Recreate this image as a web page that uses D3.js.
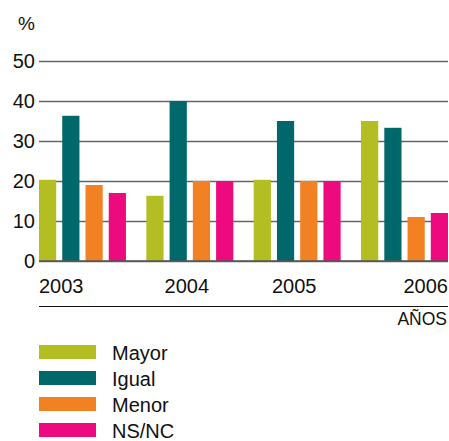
<!DOCTYPE html>
<html>
<head>
<meta charset="utf-8">
<script src="https://cdn.jsdelivr.net/npm/d3@7"></script>
<style>
  body { margin: 0; background: #fff; }
  svg { font-family: "Liberation Sans", Arial, sans-serif; }
</style>
</head>
<body>
<svg width="449" height="441"></svg>
<script>
// data
const years = ["2003", "2004", "2005", "2006"];
const series = ["Mayor", "Igual", "Menor", "NS/NC"];
const mayor = [20.3, 16.3, 20.3, 35];
const igual = [36.3, 40, 35, 33.3];
const menor = [19, 20, 20, 11];
const nsnc = [17, 20, 20, 12];
const yTicks = [0, 10, 20, 30, 40, 50];
const colors = ["#b2be22", "#00676a", "#f28123", "#ec0a7e"];

const values = [mayor, igual, menor, nsnc];

let svg = d3.select("svg");
let left = 39, right = 448;

let yScale = d3.scaleLinear()
  .domain([0, 50])
  .range([261, 61]);

let x0 = d3.scaleBand()
  .domain(years)
  .range([left, right])
  .paddingInner(0.19)
  .paddingOuter(0);

let x1 = d3.scaleBand()
  .domain(series)
  .range([0, x0.bandwidth()])
  .paddingInner(0.26)
  .paddingOuter(0);

// gridlines + tick labels
let yAxis = d3.axisLeft(yScale)
  .tickValues(yTicks)
  .tickSize(-(right - left))
  .tickPadding(4);

let gy = svg.append("g")
  .attr("transform", `translate(${left},0)`)
  .call(yAxis);
gy.select(".domain").remove();
gy.selectAll(".tick line")
  .attr("stroke", "#666")
  .attr("stroke-width", 1.6);
gy.selectAll(".tick text")
  .attr("font-size", 20)
  .attr("font-family", "Liberation Sans, Arial, sans-serif")
  .attr("fill", "#111");

svg.append("text")
  .attr("x", 35)
  .attr("y", 30)
  .attr("text-anchor", "end")
  .attr("font-size", 19)
  .attr("fill", "#111")
  .text("%");

// bars
series.forEach((s, si) => {
  svg.append("g")
    .selectAll("rect")
    .data(years)
    .enter().append("rect")
    .attr("x", (d) => x0(d) + x1(s))
    .attr("y", (d, i) => yScale(values[si][i]))
    .attr("width", x1.bandwidth())
    .attr("height", (d, i) => yScale(0) - yScale(values[si][i]))
    .attr("fill", colors[si]);
});

// baseline drawn over bars
svg.append("line")
  .attr("x1", left).attr("x2", right)
  .attr("y1", yScale(0)).attr("y2", yScale(0))
  .attr("stroke", "#555")
  .attr("stroke-width", 1.6);

// year labels
svg.append("g")
  .selectAll("text")
  .data(years)
  .enter().append("text")
  .attr("x", (d, i) => {
    if (i == 0) return left;
    if (i == years.length - 1) return right;
    return x0(d) + x0.bandwidth() / 2 - 3;
  })
  .attr("y", 293)
  .attr("text-anchor", (d, i) => i == 0 ? "start" : (i == years.length - 1 ? "end" : "middle"))
  .attr("font-size", 20)
  .attr("fill", "#111")
  .text(d => d);

svg.append("line")
  .attr("x1", left).attr("x2", right)
  .attr("y1", 306.5).attr("y2", 306.5)
  .attr("stroke", "#111")
  .attr("stroke-width", 1);

svg.append("text")
  .attr("x", 447)
  .attr("y", 325)
  .attr("text-anchor", "end")
  .attr("font-size", 17.5)
  .attr("fill", "#111")
  .text("AÑOS");

// legend
let legend = svg.append("g")
  .selectAll("g")
  .data(series)
  .enter().append("g")
  .attr("transform", (d, i) => `translate(39,${345 + i * 26})`);

legend.append("rect")
  .attr("width", 57)
  .attr("height", 14)
  .attr("fill", (d, i) => colors[i]);

legend.append("text")
  .attr("x", 73)
  .attr("y", 15)
  .attr("font-size", 20)
  .attr("fill", "#111")
  .text(d => d);
</script>
</body>
</html>
